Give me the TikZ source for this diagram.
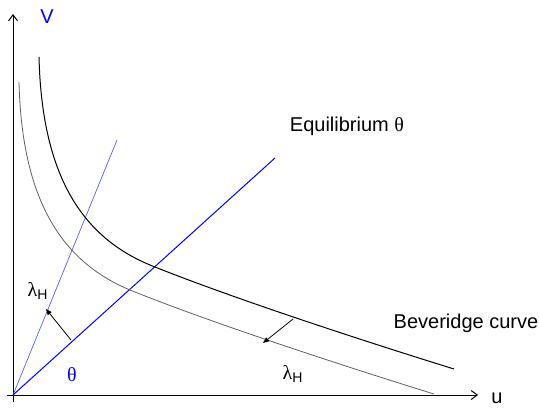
\documentclass[tikz,border=0pt]{standalone}
\usepackage{fontspec}
\setmainfont{Liberation Sans}
\newfontfamily\greekfont{Liberation Serif}
\definecolor{eqblue}{RGB}{0,0,255}
\definecolor{lightblue}{RGB}{90,90,255}
\definecolor{shiftgray}{RGB}{95,95,95}
\usetikzlibrary{arrows.meta}

\begin{document}
\begin{tikzpicture}[
    x=0.5pt, y=-0.5pt,
    axis/.style={line width=0.5pt, -{Straight Barb[length=3pt,width=4.5pt]}},
    shiftarrow/.style={line width=0.4pt, -{Triangle[length=3pt,width=2.4pt]}},
    lbl/.style={font=\fontsize{10}{12}\selectfont, inner sep=0pt},
  ]
    \useasboundingbox (0,0) rectangle (539,407);
    % axes
    \coordinate (O) at (13,395);
    \coordinate (ytop) at (13,14);
    \coordinate (xend) at (478,395);
    \draw[axis] (13,402) -- (ytop);
    \draw[axis] (7,395) -- (xend);
    \node[lbl, text=eqblue] (vlab) at (47,17) {V};
    \node[lbl] (ulab) at (497,398) {u};
    % equilibrium rays
    \coordinate (rayA) at (117,140);
    \coordinate (rayB) at (275,158);
    \draw[lightblue, line width=0.35pt] (O) -- (rayA);
    \draw[eqblue, line width=0.5pt] (O) -- (rayB);
    \node[lbl, text=eqblue] (theta) at (72,375) {\greekfont θ};
    \node[lbl] (eqlab) at (347,126) {Equilibrium {\greekfont θ}};
    % Beveridge curves
    \draw[line width=0.5pt] (39,57) .. controls (42,180) and (85,240) .. (155,267)
      .. controls (230,297) and (354,338) .. (454,369);
    \draw[shiftgray, line width=0.4pt] (19,82) .. controls (22,205) and (65,265) .. (135,292)
      .. controls (210,322) and (334,363) .. (434,394);
    \node[lbl] (bclab) at (466,323) {Beveridge curve};
    % shifts
    \coordinate (s1) at (293,319);
    \coordinate (t1) at (263,343);
    \coordinate (s2) at (71,340);
    \coordinate (t2) at (46,309);
    \draw[shiftarrow] (s1) -- (t1);
    \draw[shiftarrow] (s2) -- (t2);
    \node[lbl] (lamR) at (293,374) {{\greekfont λ}\textsubscript{H}};
    \node[lbl] (lamL) at (38,291) {{\greekfont λ}\textsubscript{H}};
  \end{tikzpicture}
\end{document}
